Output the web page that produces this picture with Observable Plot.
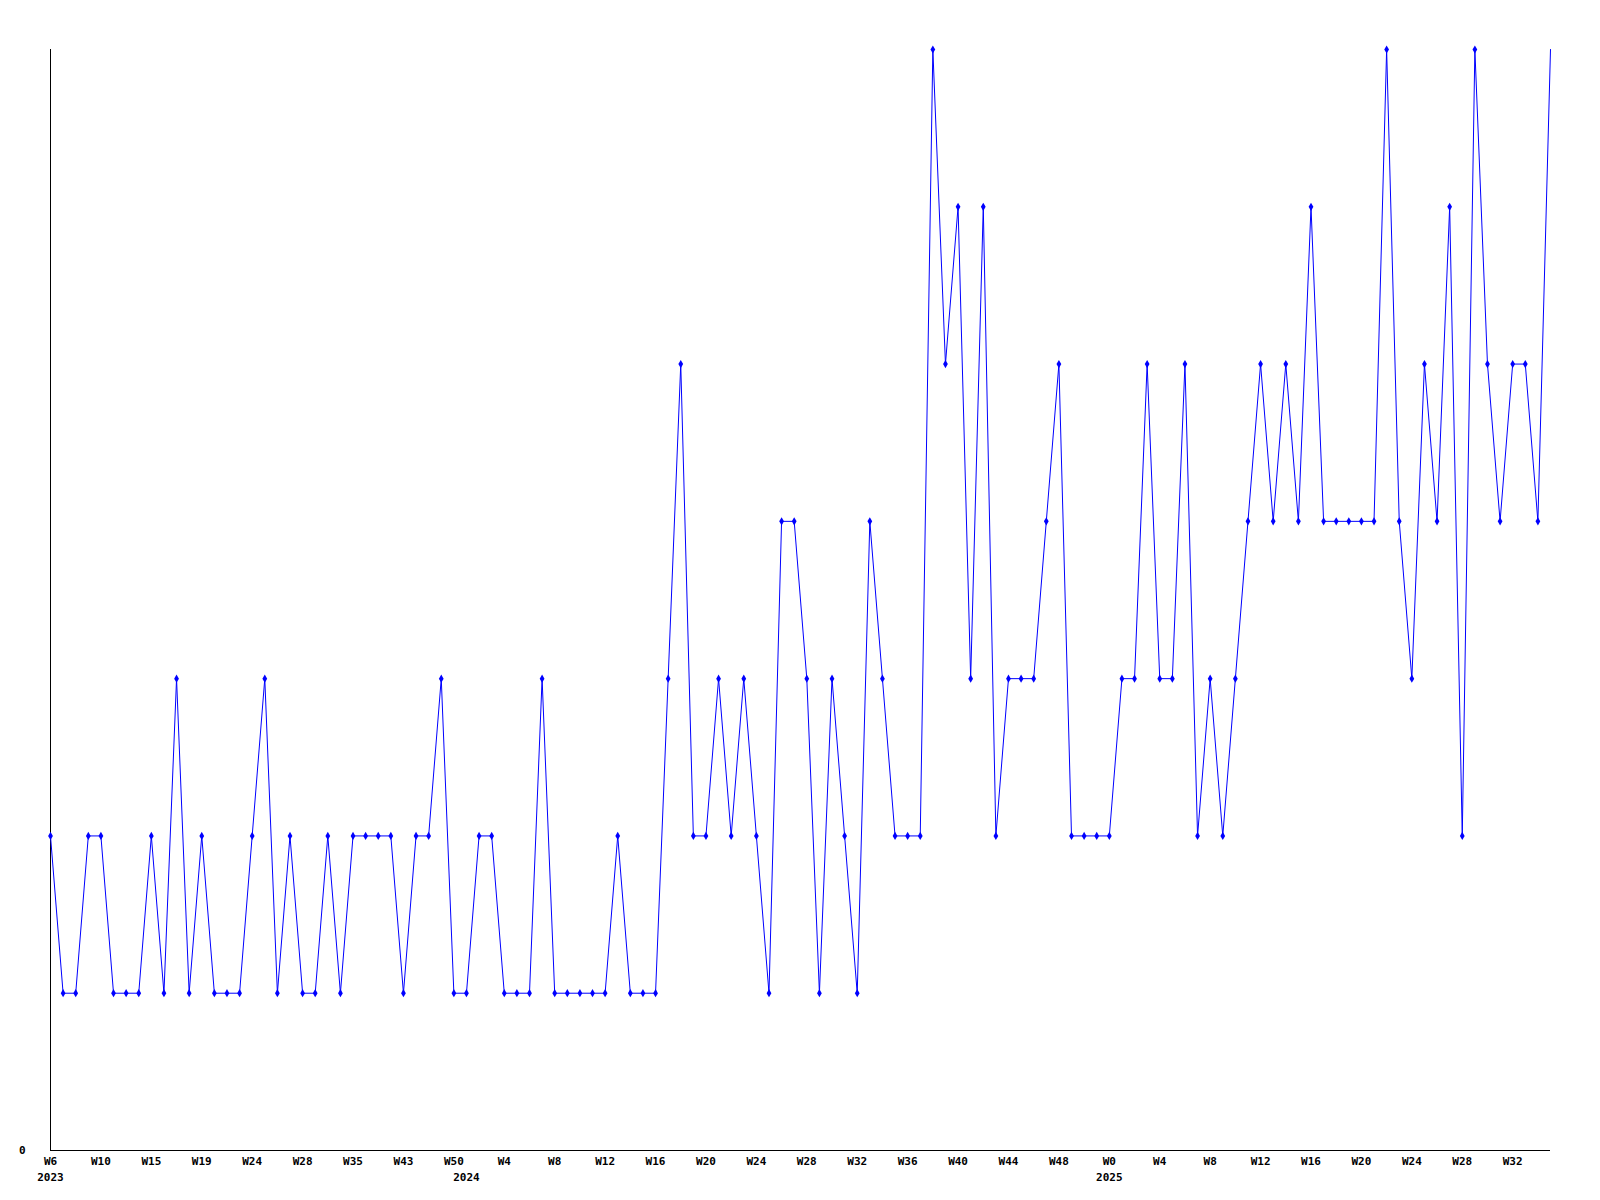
<!DOCTYPE html>
<html><head><meta charset="utf-8">
<script src="https://cdn.jsdelivr.net/npm/d3@7"></script>
<script src="https://cdn.jsdelivr.net/npm/@observablehq/plot@0.6"></script>
<style>body{margin:0;background:#fff}</style>
</head><body><div id="chart"></div>
<script>
// Week numbers per point, per year
const weeks2023 = [6,7,8,9,10,11,12,14,15,16,17,18,19,20,21,23,24,25,26,27,28,30,31,33,35,37,39,41,43,45,47,48,50];
const weeks2024 = [1,2,3,4,5,6,7,8,9,10,11,12,13,14,15,16,17,18,19,20,21,22,23,24,25,26,27,28,29,30,31,32,33,34,35,36,37,38,39,40,41,42,43,44,45,46,47,48,49,50,51];
const weeks2025 = [0,1,2,3,4,5,6,7,8,9,10,11,12,13,14,15,16,17,18,19,20,21,22,23,24,25,26,27,28,29,30,31,32,33,34,35];
const years = [2023, 2024, 2025];
const values = [
  2,1,1,2,2,1,1,1,2,1,
  3,1,2,1,1,1,2,3,1,2,
  1,1,2,1,2,2,2,2,1,2,
  2,3,1,1,2,2,1,1,1,3,
  1,1,1,1,1,2,1,1,1,3,
  5,2,2,3,2,3,2,1,4,4,
  3,1,3,2,1,4,3,2,2,2,
  7,5,6,3,6,2,3,3,3,4,
  5,2,2,2,2,3,3,5,3,3,
  5,2,3,2,3,4,5,4,5,4,
  6,4,4,4,4,4,7,4,3,5,
  4,6,2,7,5,4,5,5,4,7
];

const weekLists = [weeks2023, weeks2024, weeks2025];
const data = [];
const yearStarts = [];
weekLists.forEach((wl, yi) => {
  yearStarts.push(data.length);
  wl.forEach(w => data.push({i: data.length, year: years[yi], week: w, value: values[data.length]}));
});
const tickIdx = data.filter(d => d.i % 4 === 0).map(d => d.i);

const chart = Plot.plot({
  width: 1600, height: 1200,
  marginLeft: 50, marginRight: 50, marginTop: 49, marginBottom: 50,
  style: {fontFamily: "'DejaVu Sans Mono', monospace", fontSize: "11px", fontWeight: "bold", background: "white", color: "black"},
  x: {type: "point", domain: data.map(d => d.i), padding: 0, axis: null, label: null},
  y: {domain: [0, 7], axis: null, label: null},
  marks: [
    Plot.ruleX([0], {stroke: "black", strokeWidth: 1}),
    Plot.ruleY([0], {stroke: "black", strokeWidth: 1}),
    Plot.axisY([0], {tickSize: 0, tickPadding: 25, label: null, tickFormat: d => String(d)}),
    Plot.axisX(tickIdx, {tickSize: 0, tickPadding: 7, label: null, tickFormat: i => "W" + data[i].week}),
    Plot.axisX(yearStarts, {tickSize: 0, tickPadding: 23, label: null, tickFormat: i => String(data[i].year)}),
    Plot.line(data, {x: "i", y: "value", stroke: "#0000ff", strokeWidth: 1}),
    Plot.dot(data.slice(0, -1), {x: "i", y: "value", symbol: "diamond", r: 2.5, fill: "#0000ff", stroke: "none"})
  ]
});
document.getElementById("chart").append(chart);
</script>
</body></html>
